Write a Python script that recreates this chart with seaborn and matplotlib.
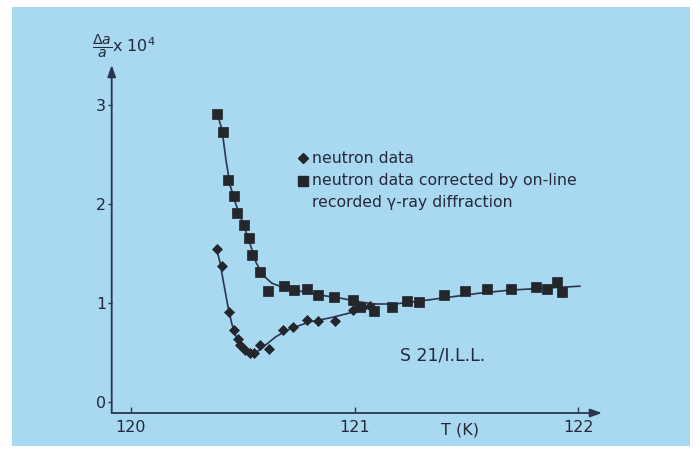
import matplotlib
matplotlib.use("Agg")
import matplotlib.pyplot as plt
from matplotlib.patches import Rectangle
import numpy as np
import pandas as pd
import seaborn as sns

# --- measured data -------------------------------------------------------
# neutron data (diamonds)
t_neutron = [120.384, 120.407, 120.439, 120.463, 120.478, 120.488, 120.511,
             120.533, 120.551, 120.578, 120.619, 120.682, 120.727, 120.786,
             120.836, 120.913, 120.995, 121.038, 121.069]
da_neutron = [1.55, 1.37, 0.91, 0.73, 0.64, 0.58, 0.53,
              0.49, 0.50, 0.58, 0.54, 0.73, 0.76, 0.83,
              0.82, 0.82, 0.93, 0.96, 0.97]

# neutron data corrected by on-line recorded gamma-ray diffraction (squares)
t_corr = [120.387, 120.412, 120.435, 120.463, 120.475, 120.508, 120.527,
          120.542, 120.578, 120.613, 120.686, 120.728, 120.789, 120.836,
          120.907, 120.993, 121.025, 121.088, 121.168, 121.236, 121.290,
          121.400, 121.494, 121.593, 121.699, 121.810, 121.860, 121.906,
          121.928]
da_corr = [2.91, 2.73, 2.24, 2.08, 1.91, 1.79, 1.66,
           1.48, 1.31, 1.12, 1.17, 1.13, 1.14, 1.08,
           1.06, 1.03, 0.96, 0.92, 0.96, 1.02, 1.01,
           1.08, 1.12, 1.14, 1.14, 1.16, 1.14, 1.21,
           1.11]

# hand-drawn guide curves through each data set
t_guide_corr = [120.386, 120.408, 120.426, 120.444, 120.471, 120.506, 120.533,
                120.560, 120.591, 120.631, 120.689, 120.756, 120.846, 120.935,
                121.025, 121.092, 121.181, 121.293, 121.427, 121.561, 121.695,
                121.852, 122.008]
da_guide_corr = [2.92, 2.75, 2.44, 2.19, 1.99, 1.78, 1.60,
                 1.41, 1.28, 1.20, 1.15, 1.12, 1.08, 1.05,
                 1.01, 0.99, 0.99, 1.02, 1.06, 1.10, 1.13,
                 1.15, 1.17]

t_guide_neutron = [120.381, 120.399, 120.417, 120.435, 120.453, 120.471,
                   120.493, 120.520, 120.542, 120.569, 120.605, 120.649,
                   120.712, 120.801, 120.891, 120.980, 121.047, 121.092]
da_guide_neutron = [1.57, 1.41, 1.18, 0.96, 0.78, 0.66,
                    0.56, 0.505, 0.485, 0.515, 0.58, 0.66,
                    0.74, 0.81, 0.85, 0.90, 0.96, 0.99]

x_ticks = [120, 121, 122]
y_ticks = [0, 1, 2, 3]

# --- style ---------------------------------------------------------------
sns.set_style("white")
plt.rcParams["font.family"] = ["DejaVu Sans"]
plt.rcParams["mathtext.fontset"] = "dejavusans"

BLUE = "#a9d8f1"
INK = "#24283a"
LINE = "#2b3550"
MARK = "#23262b"

W, H = 699, 462
fig = plt.figure(figsize=(W / 100, H / 100), dpi=100, facecolor="white")

# pale blue panel with white margin
fig.patches.append(Rectangle((12 / W, 1 - 446 / H), (690 - 12) / W, (446 - 7) / H,
                             transform=fig.transFigure, facecolor=BLUE,
                             edgecolor="none", zorder=-10))

# axes box: y-axis at x=111.7px, x-axis at y=413px
left_px, right_px, top_px, bottom_px = 111.7, 602, 65, 413
ax = fig.add_axes([left_px / W, 1 - bottom_px / H,
                   (right_px - left_px) / W, (bottom_px - top_px) / H])
ax.set_zorder(5)
ax.patch.set_visible(False)
x0 = 120 + (left_px - 130.7) / 223.8
x1 = 120 + (right_px - 130.7) / 223.8
y0 = (402 - bottom_px) / 99
y1 = (402 - top_px) / 99

# guide curves
df_gc = pd.DataFrame({"T": t_guide_corr, "da": da_guide_corr})
df_gn = pd.DataFrame({"T": t_guide_neutron, "da": da_guide_neutron})
sns.lineplot(data=df_gc, x="T", y="da", ax=ax, color=LINE, lw=1.2,
             sort=False, estimator=None, zorder=2)
sns.lineplot(data=df_gn, x="T", y="da", ax=ax, color=LINE, lw=1.2,
             sort=False, estimator=None, zorder=2)

# data points
df_c = pd.DataFrame({"T": t_corr, "da": da_corr})
df_n = pd.DataFrame({"T": t_neutron, "da": da_neutron})
sns.scatterplot(data=df_c, x="T", y="da", ax=ax, marker="s", s=50,
                color=MARK, edgecolor=MARK, linewidth=0.5, zorder=3)
sns.scatterplot(data=df_n, x="T", y="da", ax=ax, marker="D", s=26,
                color=MARK, edgecolor=MARK, linewidth=0.5, zorder=3)

ax.set_xlim(x0, x1)
ax.set_ylim(y0, y1)
for s in ax.spines.values():
    s.set_visible(False)

# axes drawn as arrows
arrow = dict(arrowstyle="-|>,head_length=0.7,head_width=0.25", color=LINE,
             lw=1.3, shrinkA=0, shrinkB=0)
ax.annotate("", xy=(x1, y0), xytext=(x0, y0), arrowprops=arrow,
            annotation_clip=False)
ax.annotate("", xy=(x0, y1), xytext=(x0, y0), arrowprops=arrow,
            annotation_clip=False)

ax.set_xticks(x_ticks)
ax.set_xticklabels([str(v) for v in x_ticks])
ax.set_yticks(y_ticks)
ax.set_yticklabels([str(v) for v in y_ticks])
ax.tick_params(axis="x", direction="in", length=4, width=1.0, color=LINE,
               labelsize=11.5, labelcolor=INK, pad=5, bottom=True)
ax.tick_params(axis="y", direction="out", length=3, width=1.0, color=LINE,
               labelsize=11.5, labelcolor=INK, pad=1, left=True)
ax.set_xlabel("")
ax.set_ylabel("")


def fig_text(px, py, s, **kw):
    fig.text(px / W, 1 - py / H, s, **kw)


# axis titles
fig_text(92, 47, r"$\frac{\Delta a}{a}$", fontsize=14.5, color=INK,
         ha="left", va="center")
fig_text(112, 46, r"x 10$^4$", fontsize=11.5, color=INK, ha="left", va="center")
fig_text(460, 430, "T (K)", fontsize=11.5, color=INK, ha="center", va="center")

# legend
fig.lines.append(plt.Line2D([303 / W], [1 - 158 / H], marker="D", ms=5.5,
                            color=MARK, transform=fig.transFigure))
fig.lines.append(plt.Line2D([303 / W], [1 - 181 / H], marker="s", ms=7,
                            color=MARK, transform=fig.transFigure))
fig_text(312, 158, "neutron data", fontsize=11.3, color=INK, ha="left", va="center")
fig_text(312, 181, "neutron data corrected by on-line", fontsize=11.3,
         color=INK, ha="left", va="center")
fig_text(312, 203, "recorded \u03b3-ray diffraction", fontsize=11.3,
         color=INK, ha="left", va="center")

fig_text(443, 355, "S 21/I.L.L.", fontsize=12.5, color=INK,
         ha="center", va="center")

fig.savefig("out.png", dpi=100, facecolor="white")
